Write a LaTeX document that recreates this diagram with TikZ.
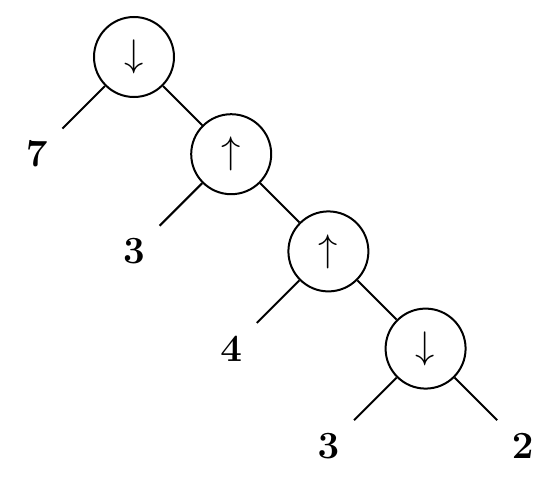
\RequirePackage{fix-cm}
\documentclass[tikz,border=0pt]{standalone}
\usepackage{amsmath}
\usepackage{tikz}
\usetikzlibrary{positioning}

\tikzset{
  opnode/.style={circle, draw, line width=2pt, minimum size=80pt, inner sep=0pt},
  leafnode/.style={circle, minimum size=72pt, inner sep=0pt},
  branch/.style={line width=2pt}
}

\begin{document}
\begin{tikzpicture}[on grid, node distance=97.2pt and 97.2pt, font=\fontsize{38.5}{46}\selectfont]
  \useasboundingbox (-134pt,57pt) rectangle (423pt,-425pt);
  \node[opnode] (opA) at (0,0) {$\downarrow$};
  \node[leafnode] (leafA) [below left=of opA] {$\mathbf{7}$};
  \node[opnode] (opB) [below right=of opA] {$\uparrow$};
  \node[leafnode] (leafB) [below left=of opB] {$\mathbf{3}$};
  \node[opnode] (opC) [below right=of opB] {$\uparrow$};
  \node[leafnode] (leafC) [below left=of opC] {$\mathbf{4}$};
  \node[opnode] (opD) [below right=of opC] {$\downarrow$};
  \node[leafnode] (leafD) [below left=of opD] {$\mathbf{3}$};
  \node[leafnode] (leafE) [below right=of opD] {$\mathbf{2}$};
  \draw[branch] (opA) -- (leafA);
  \draw[branch] (opA) -- (opB);
  \draw[branch] (opB) -- (leafB);
  \draw[branch] (opB) -- (opC);
  \draw[branch] (opC) -- (leafC);
  \draw[branch] (opC) -- (opD);
  \draw[branch] (opD) -- (leafD);
  \draw[branch] (opD) -- (leafE);
\end{tikzpicture}
\end{document}
